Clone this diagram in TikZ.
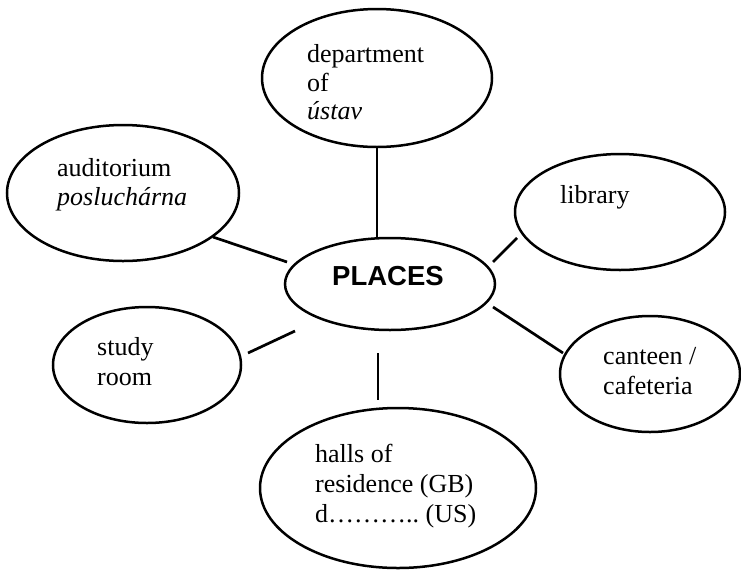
\documentclass[tikz,border=0pt]{standalone}
\usepackage{fontspec}
\setmainfont{Liberation Serif}
\newfontfamily\headsans{Liberation Sans}
\usetikzlibrary{shapes.geometric}
\begin{document}
\begin{tikzpicture}[x=1pt,y=-1pt,
  bubble/.style={draw=black, line width=2.5pt, ellipse, inner sep=0pt, fill=none},
  link/.style={draw=black, line width=2.7pt},
  txt/.style={inner sep=0pt, anchor=base west, font=\fontsize{26}{30}\selectfont},
  head/.style={inner sep=0pt, anchor=base, font=\headsans\bfseries\fontsize{27.5}{30}\selectfont}]
\useasboundingbox[fill=white] (0,0) rectangle (741,571);

% ellipses
\node[bubble, minimum width=230pt, minimum height=138pt] (dept) at (377,78) {};
\node[bubble, minimum width=232pt, minimum height=136pt] (aud) at (123,193) {};
\node[bubble, minimum width=188pt, minimum height=116pt] (study) at (147,365) {};
\node[bubble, minimum width=210pt, minimum height=116pt] (lib) at (620,212) {};
\node[bubble, minimum width=180pt, minimum height=116pt] (cant) at (650,374) {};
\node[bubble, minimum width=276pt, minimum height=160pt] (halls) at (398,488) {};
\node[bubble, minimum width=210pt, minimum height=92pt] (places) at (390,284) {};

% texts
\node[txt] (t1a) at (307,62) {department};
\node[txt] (t1b) at (307,91) {of};
\node[txt] (t1c) at (307,119) {\itshape ústav};
\node[txt] (t2a) at (57,176) {auditorium};
\node[txt] (t2b) at (57,205) {\itshape posluchárna};
\node[txt] (t3a) at (97,355) {study};
\node[txt] (t3b) at (97,385) {room};
\node[txt] (t4a) at (560,203) {library};
\node[txt] (t5a) at (603,364) {canteen /};
\node[txt] (t5b) at (603,394) {cafeteria};
\node[txt] (t6a) at (315,462) {halls of};
\node[txt] (t6b) at (315,492) {residence (GB)};
\node[txt] (t6c) at (315,522) {d………..\ (US)};
\node[head] (pl) at (388,285) {PLACES};

% connector ends
\coordinate (c1a) at (377,147);
\coordinate (c1b) at (377,239);
\coordinate (c2a) at (213,237);
\coordinate (c2b) at (287,262);
\coordinate (c3a) at (248,353);
\coordinate (c3b) at (295,331);
\coordinate (c4a) at (493,262);
\coordinate (c4b) at (517,238);
\coordinate (c5a) at (493,307);
\coordinate (c5b) at (563,353);
\coordinate (c6a) at (378,353);
\coordinate (c6b) at (378,400);

\draw[link] (c1a) -- (c1b);
\draw[link] (c2a) -- (c2b);
\draw[link] (c3a) -- (c3b);
\draw[link] (c4a) -- (c4b);
\draw[link] (c5a) -- (c5b);
\draw[link] (c6a) -- (c6b);
\end{tikzpicture}
\end{document}
